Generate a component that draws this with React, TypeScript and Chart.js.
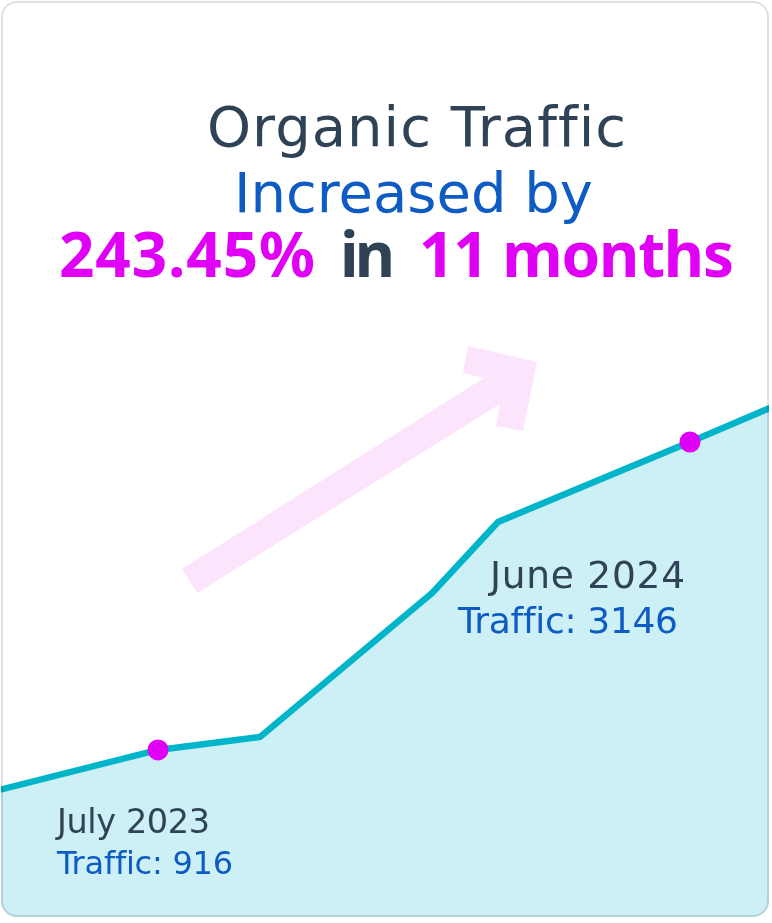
import { useEffect, useRef } from 'react';
import { Chart, registerables } from 'chart.js';

Chart.register(...registerables);

// Months counted from July 2023 (0) to June 2024 (11)
const monthOffsets = [-3.3, 0, 2.11, 5.67, 7.03, 11, 12.65];
const trafficValues = [625, 916, 1010, 2053, 2567, 3146, 3392];
const highlighted = [false, true, false, false, false, true, false];

const titleLine1 = 'Organic Traffic';
const titleLine2 = 'Increased by';
const growthText = '243.45%';
const inText = 'in';
const periodText = '11 months';
const startLabel = 'July 2023';
const startTraffic = 'Traffic: 916';
const endLabel = 'June 2024';
const endTraffic = 'Traffic: 3146';

const DARK = '#2f4256';
const BLUE = '#0f5bc4';
const MAGENTA = '#e000f5';
const LINE = '#00b5c9';
const FILL = '#ccf0f5';
const ARROW = '#fbe4fc';
const FONT = '"DejaVu Sans", Verdana, sans-serif';
const BOLD_FONT = '"Noto Sans", "DejaVu Sans", sans-serif';

export default function App() {
  const canvasRef = useRef<HTMLCanvasElement | null>(null);

  useEffect(() => {
    document.body.style.margin = '0';
    const canvas = canvasRef.current;
    if (!canvas) return;
    const chart = new Chart(canvas, {
      type: 'line',
      data: {
        datasets: [
          {
            data: monthOffsets.map((m, i) => ({ x: m, y: trafficValues[i] })),
            borderColor: LINE,
            borderWidth: 6.5,
            backgroundColor: FILL,
            fill: 'start',
            tension: 0,
            pointRadius: highlighted.map((h) => (h ? 10.5 : 0)),
            pointBackgroundColor: MAGENTA,
            pointBorderWidth: 0,
            pointHoverRadius: 0,
          },
        ],
      },
      options: {
        animation: false,
        responsive: false,
        events: [],
        layout: { padding: 0 },
        plugins: { legend: { display: false }, tooltip: { enabled: false }, title: { display: false } },
        scales: {
          x: { type: 'linear', display: false, min: -3.267, max: 12.696 },
          y: { display: false, min: -337, max: 6346 },
        },
      },
    });
    return () => chart.destroy();
  }, []);

  return (
    <div style={{ position: 'relative', width: 772, height: 923, overflow: 'hidden' }}>
      <div
        style={{
          position: 'absolute',
          left: 1,
          top: 1,
          width: 768,
          height: 916,
          borderRadius: 16,
          background: '#ffffff',
          overflow: 'hidden',
        }}
      >
        <svg width={772} height={923} style={{ position: 'absolute', left: -1, top: -1 }}>
          <polygon
            points="182,569 484,378 463,373 468,346 537,362 523,431 496,426 500,404 197,593"
            fill={ARROW}
          />
        </svg>
        <canvas
          ref={canvasRef}
          width={772}
          height={923}
          style={{ position: 'absolute', left: -1, top: -1, width: 772, height: 923 }}
        />
      </div>
      <div
        style={{
          position: 'absolute',
          left: 1,
          top: 1,
          width: 768,
          height: 916,
          borderRadius: 16,
          border: '2px solid rgba(0,0,0,0.12)',
          boxSizing: 'border-box',
          pointerEvents: 'none',
        }}
      />
      <svg width={772} height={923} style={{ position: 'absolute', left: 0, top: 0 }}>
        <g fontFamily={FONT} style={{ fontVariantLigatures: 'none' }}>
          <text x={207} y={146} fontSize={56} fill={DARK} textLength={419} lengthAdjust="spacing">
            {titleLine1}
          </text>
          <text x={234} y={212} fontSize={56} fill={BLUE} textLength={359} lengthAdjust="spacing">
            {titleLine2}
          </text>
          <g fontFamily={BOLD_FONT} fontWeight="bold" fontSize={62}>
            <text x={59} y={277} fill={MAGENTA} textLength={256} lengthAdjust="spacing">
              {growthText}
            </text>
            <text x={340} y={277} fill={DARK} textLength={55} lengthAdjust="spacing">
              {inText}
            </text>
            <text x={419} y={277} fill={MAGENTA} textLength={315} lengthAdjust="spacing">
              {periodText}
            </text>
          </g>
          <text x={57} y={833} fontSize={33.5} fill={DARK} textLength={153} lengthAdjust="spacing">
            {startLabel}
          </text>
          <text x={57} y={874} fontSize={32} fill={BLUE} textLength={176} lengthAdjust="spacing">
            {startTraffic}
          </text>
          <text x={490} y={588} fontSize={37.5} fill={DARK} textLength={195} lengthAdjust="spacing">
            {endLabel}
          </text>
          <text x={458} y={633} fontSize={36} fill={BLUE} textLength={220} lengthAdjust="spacing">
            {endTraffic}
          </text>
        </g>
      </svg>
    </div>
  );
}
